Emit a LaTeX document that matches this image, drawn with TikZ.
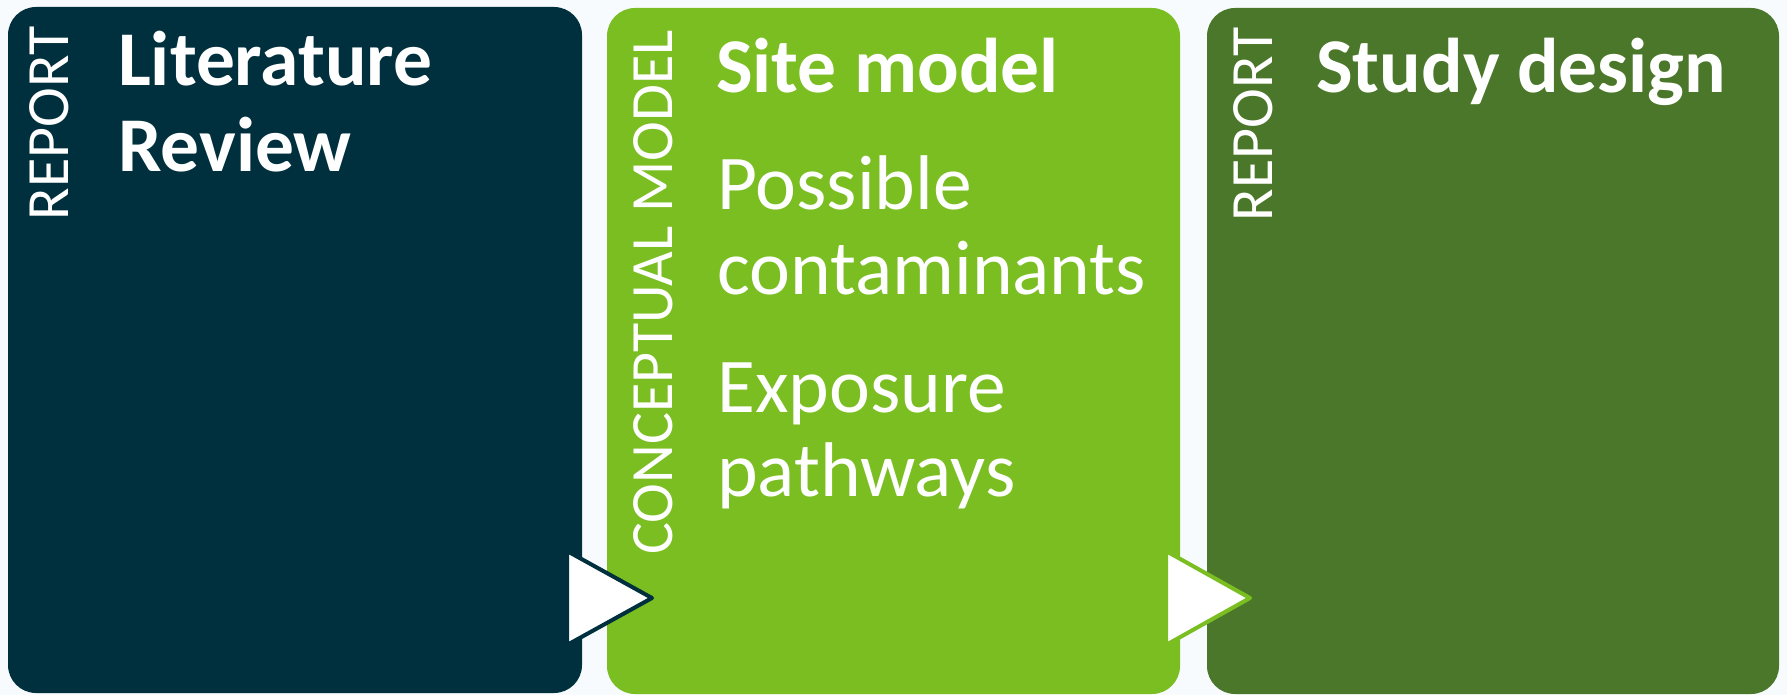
\documentclass[tikz,border=0pt]{standalone}
\usepackage{fontspec}
\setmainfont{Carlito}
\usetikzlibrary{positioning}
\definecolor{litblue}{RGB}{0,48,61}
\definecolor{sitegreen}{RGB}{122,190,33}
\definecolor{studygreen}{RGB}{74,119,41}
\definecolor{paper}{RGB}{248,251,253}
\tikzset{
  panel/.style={rectangle, rounded corners=28pt, inner sep=0pt, minimum height=686pt},
  title/.style={anchor=base west, inner sep=0pt, text=white, font=\fontsize{77.5}{86}\selectfont\bfseries},
  body/.style={anchor=base west, inner sep=0pt, text=white, font=\fontsize{77.5}{86}\selectfont},
  tag/.style={anchor=base east, rotate=90, inner sep=0pt, text=white, font=\fontsize{60}{72}\selectfont},
  pointer/.style={fill=white, line width=4pt, line join=round},
}

\begin{document}
\begin{tikzpicture}[x=1pt, y=1pt]
    \fill[paper] (0,0) rectangle (1787,-695);
    \useasboundingbox (0,0) rectangle (1787,-695);

    % the three panels
    \node[panel, fill=litblue, minimum width=574pt] (lit) at (295,-350) {};
    \node[panel, fill=sitegreen, minimum width=573pt] (site) at (893.5,-351) {};
    \node[panel, fill=studygreen, minimum width=572pt] (study) at (1493,-351) {};

    % side tags
    \node[tag] (littag) at (68,-26) {REPORT};
    \node[tag] (sitetag) at (672,-30) {CONCEPTUAL MODEL};
    \node[tag] (studytag) at (1272,-27) {REPORT};

    % headings and items
    \node[title] (lit1) at (118,-86) {Literature};
    \node[title] (lit2) at (118,-172) {Review};
    \node[title] (site1) at (716,-93) {Site model};
    \node[body] (site2) at (717,-209) {Possible};
    \node[body] (site3) at (717,-294) {contaminants};
    \node[body] (site4) at (717,-412) {Exposure};
    \node[body] (site5) at (717,-496) {pathways};
    \node[title] (study1) at (1316,-93) {Study design};

    % pointers between panels
    \draw[pointer, draw=litblue] (567,-551) -- (652,-598) -- (567,-645) -- cycle;
    \draw[pointer, draw=sitegreen] (1166,-551) -- (1250,-598) -- (1166,-645) -- cycle;
\end{tikzpicture}
\end{document}
